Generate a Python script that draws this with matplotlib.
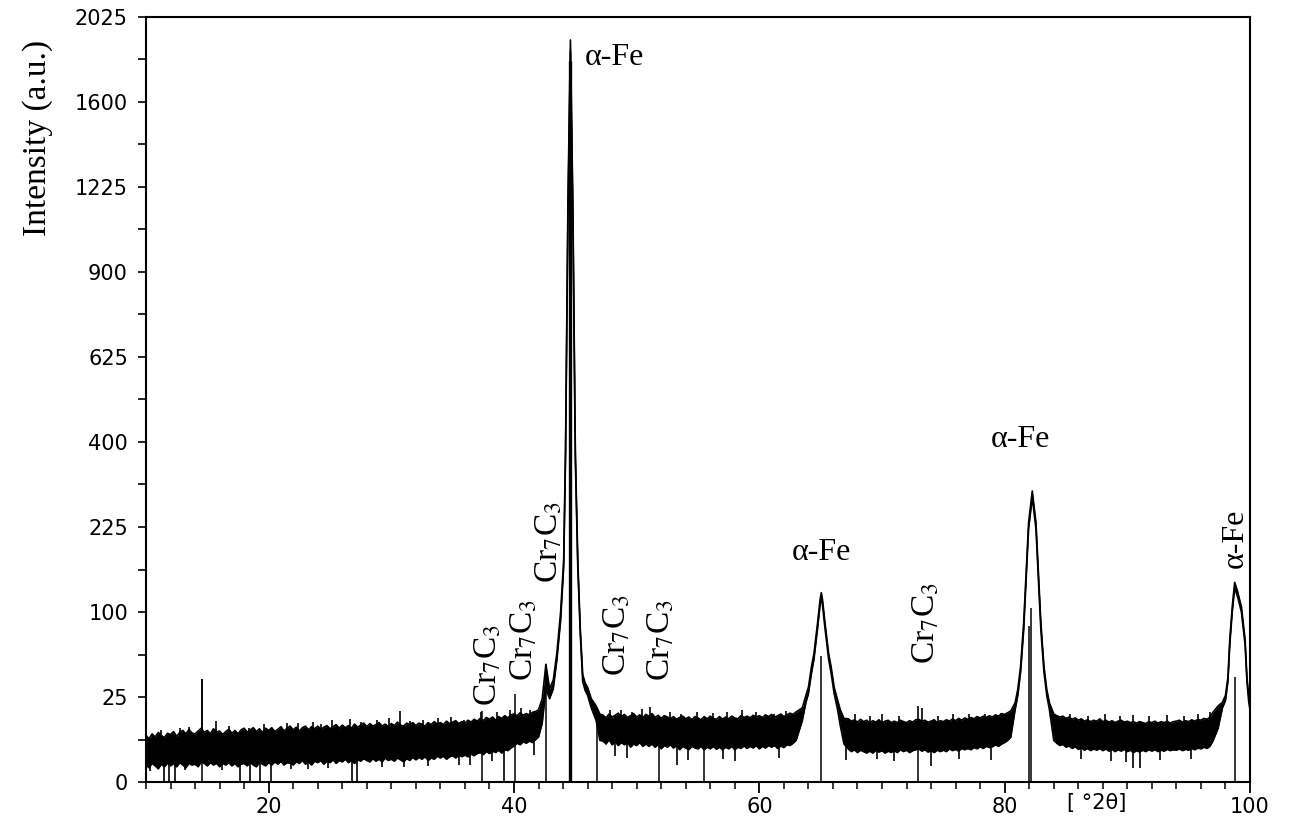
import numpy as np
import matplotlib
matplotlib.use("Agg")
import matplotlib.pyplot as plt

plt.rcParams['mathtext.fontset'] = 'stix'

# ---------------- data ----------------
# 2-theta sampling positions of the noise band / peak profiles
two_theta = [
    # 10 - 42
    10.0, 10.25, 10.5, 10.75, 11.0, 11.25, 11.5, 11.75,
    12.0, 12.25, 12.5, 12.75, 13.0, 13.25, 13.5, 13.75,
    14.0, 14.25, 14.5, 14.75, 15.0, 15.25, 15.5, 15.75,
    16.0, 16.25, 16.5, 16.75, 17.0, 17.25, 17.5, 17.75,
    18.0, 18.25, 18.5, 18.75, 19.0, 19.25, 19.5, 19.75,
    20.0, 20.25, 20.5, 20.75, 21.0, 21.25, 21.5, 21.75,
    22.0, 22.25, 22.5, 22.75, 23.0, 23.25, 23.5, 23.75,
    24.0, 24.25, 24.5, 24.75, 25.0, 25.25, 25.5, 25.75,
    26.0, 26.25, 26.5, 26.75, 27.0, 27.25, 27.5, 27.75,
    28.0, 28.25, 28.5, 28.75, 29.0, 29.25, 29.5, 29.75,
    30.0, 30.25, 30.5, 30.75, 31.0, 31.25, 31.5, 31.75,
    32.0, 32.25, 32.5, 32.75, 33.0, 33.25, 33.5, 33.75,
    34.0, 34.25, 34.5, 34.75, 35.0, 35.25, 35.5, 35.75,
    36.0, 36.25, 36.5, 36.75, 37.0, 37.25, 37.5, 37.75,
    38.0, 38.25, 38.5, 38.75, 39.0, 39.25, 39.5, 39.75,
    40.0, 40.25, 40.5, 40.75, 41.0, 41.25, 41.5, 41.75,
    42.0,
    # main peak
    42.3, 42.6, 42.9, 43.2, 43.5, 43.8, 44.05, 44.2, 44.4, 44.6,
    44.8, 45.0, 45.2, 45.4, 45.6, 45.8, 46.0, 46.3, 46.7, 47.0,
    # 47 - 63
    47.25, 47.5, 47.75, 48.0, 48.25, 48.5, 48.75,
    49.0, 49.25, 49.5, 49.75, 50.0, 50.25, 50.5, 50.75,
    51.0, 51.25, 51.5, 51.75, 52.0, 52.25, 52.5, 52.75,
    53.0, 53.25, 53.5, 53.75, 54.0, 54.25, 54.5, 54.75,
    55.0, 55.25, 55.5, 55.75, 56.0, 56.25, 56.5, 56.75,
    57.0, 57.25, 57.5, 57.75, 58.0, 58.25, 58.5, 58.75,
    59.0, 59.25, 59.5, 59.75, 60.0, 60.25, 60.5, 60.75,
    61.0, 61.25, 61.5, 61.75, 62.0, 62.25, 62.5, 62.75,
    63.0,
    # peak at 65
    63.5, 63.8, 64.0, 64.25, 64.45, 64.75, 64.95, 65.05, 65.15, 65.35,
    65.65, 65.85, 66.1, 66.35, 66.6, 66.9,
    # 67 - 80.5
    67.25, 67.5, 67.75, 68.0, 68.25, 68.5, 68.75,
    69.0, 69.25, 69.5, 69.75, 70.0, 70.25, 70.5, 70.75,
    71.0, 71.25, 71.5, 71.75, 72.0, 72.25, 72.5, 72.75,
    73.0, 73.25, 73.5, 73.75, 74.0, 74.25, 74.5, 74.75,
    75.0, 75.25, 75.5, 75.75, 76.0, 76.25, 76.5, 76.75,
    77.0, 77.25, 77.5, 77.75, 78.0, 78.25, 78.5, 78.75,
    79.0, 79.25, 79.5, 79.75, 80.0, 80.25, 80.5,
    # peak at 82
    80.85, 81.07, 81.3, 81.55, 81.75, 81.95, 82.25, 82.55, 82.75, 82.95,
    83.2, 83.43, 83.65,
    # 84 - 97
    84.0, 84.25, 84.5, 84.75, 85.0, 85.25, 85.5, 85.75,
    86.0, 86.25, 86.5, 86.75, 87.0, 87.25, 87.5, 87.75,
    88.0, 88.25, 88.5, 88.75, 89.0, 89.25, 89.5, 89.75,
    90.0, 90.25, 90.5, 90.75, 91.0, 91.25, 91.5, 91.75,
    92.0, 92.25, 92.5, 92.75, 93.0, 93.25, 93.5, 93.75,
    94.0, 94.25, 94.5, 94.75, 95.0, 95.25, 95.5, 95.75,
    96.0, 96.25, 96.5, 96.75, 97.0,
    # peak at 99
    97.4, 97.75, 98.0, 98.2, 98.35, 98.55, 98.75, 99.0, 99.3, 99.6,
    99.75, 99.9, 100.0]

# upper edge of the noisy trace (intensity, a.u.)
upper = [
    7.5, 6.5, 8.0, 7.0, 8.5, 7.5, 6.8, 8.2,
    7.8, 8.8, 7.2, 8.5, 9.2, 8.0, 9.5, 8.3,
    8.0, 9.0, 10.0, 8.5, 9.2, 8.0, 9.8, 8.6,
    9.0, 7.8, 8.8, 9.6, 8.2, 9.2, 8.0, 9.4,
    10.0, 8.6, 9.4, 10.2, 8.8, 9.8, 8.4, 10.0,
    9.2, 10.2, 8.8, 9.6, 10.6, 9.0, 10.0, 10.8,
    9.4, 10.4, 9.0, 10.2, 10.8, 9.4, 10.6, 9.8,
    10.8, 9.6, 10.4, 11.0, 9.8, 10.6, 11.4, 10.0,
    11.2, 10.2, 11.0, 10.0, 11.6, 10.4, 11.2, 12.0,
    10.6, 11.8, 10.8, 11.4, 12.2, 10.8, 11.6, 10.6,
    11.8, 11.0, 12.4, 11.2, 10.8, 12.0, 11.4, 12.2,
    11.0, 12.0, 11.6, 10.8, 12.2, 11.4, 12.6, 11.6,
    12.2, 11.4, 12.8, 11.8, 12.4, 13.0, 11.8, 12.6,
    12.0, 13.2, 12.4, 13.6, 12.8, 14.0, 13.0, 14.4,
    13.6, 14.6, 13.2, 14.8, 14.0, 15.2, 14.2, 15.6,
    16.0, 15.2, 16.6, 15.4, 16.2, 15.6, 16.8, 17.2,
    18.0,
    24.0, 48.0, 30.0, 36.0, 58.0, 100, 170, 380, 1180, 1905,
    1150, 380, 170, 82, 40, 34, 31, 24, 20, 16,
    15.5, 14.2, 16.0, 14.6, 15.4, 16.4, 14.8,
    15.8, 14.4, 15.2, 16.2, 14.6, 15.6, 14.2, 15.8,
    15.0, 16.2, 14.4, 15.4, 14.0, 15.2, 14.6, 13.8,
    14.8, 13.6, 14.4, 15.0, 13.8, 14.6, 13.4, 14.8,
    14.2, 13.4, 14.8, 13.8, 15.0, 14.0, 13.6, 14.8,
    13.6, 14.6, 13.8, 15.0, 14.2, 13.8, 15.2, 14.4,
    15.0, 14.2, 15.4, 14.6, 15.2, 14.4, 15.6, 14.8,
    15.8, 14.6, 15.2, 16.0, 14.8, 15.6, 16.4, 15.8,
    17.0,
    19, 26, 31, 46, 57, 88, 115, 124, 115, 88,
    57, 46, 31, 24, 18, 14,
    13.8, 12.8, 13.4, 12.4, 13.6, 12.6, 13.2,
    12.2, 13.0, 12.4, 13.4, 12.0, 12.8, 13.2, 12.2,
    12.8, 12.2, 13.2, 12.6, 12.2, 13.0, 12.4, 13.4,
    13.6, 12.8, 13.2, 12.4, 12.8, 13.4, 12.2, 13.0,
    12.6, 13.4, 12.8, 13.8, 13.0, 14.0, 13.2, 14.2,
    13.6, 14.4, 13.8, 14.8, 14.2, 15.0, 14.4, 15.2,
    14.6, 15.6, 15.0, 16.2, 15.8, 16.6, 17.5,
    21.7, 29.7, 46.5, 88, 152, 233, 293, 233, 152, 88,
    46.5, 29.7, 21.7,
    16.0, 15.2, 14.6, 15.0, 14.0, 14.6, 13.6, 14.2,
    13.2, 13.8, 12.8, 13.4, 12.6, 13.2, 12.8, 13.8,
    12.6, 13.2, 12.4, 13.0, 12.2, 12.8, 13.2, 12.4,
    12.8, 12.2, 12.6, 12.0, 12.6, 12.2, 11.8, 12.6,
    12.2, 12.8, 12.0, 12.6, 12.2, 12.8, 12.0, 12.6,
    12.8, 13.2, 12.4, 13.0, 12.6, 13.4, 12.8, 13.6,
    13.2, 14.0, 13.6, 14.6, 17.0,
    20, 22, 26, 38, 70, 106, 138, 125, 106, 70,
    38, 25, 21]

# lower edge of the noisy trace
lower = [
    1.0, 0.7, 1.2, 0.9, 0.6, 1.1, 0.8, 1.2,
    0.9, 1.2, 0.8, 1.3, 1.0, 0.7, 1.2, 1.0,
    1.1, 0.8, 1.4, 1.2, 0.9, 1.3, 1.0, 1.2,
    0.8, 1.2, 1.0, 1.3, 0.9, 1.2, 0.8, 1.1,
    1.2, 0.9, 1.3, 1.0, 0.8, 1.3, 1.1, 0.9,
    1.3, 1.0, 1.4, 1.1, 1.5, 1.0, 1.3, 1.2,
    1.0, 1.4, 1.2, 1.6, 1.1, 1.4, 1.0, 1.5,
    1.3, 1.6, 1.1, 1.5, 1.3, 1.7, 1.2, 1.6,
    1.4, 1.8, 1.3, 1.6, 1.2, 1.7, 1.5, 1.9,
    1.6, 1.4, 1.9, 1.5, 1.8, 1.4, 2.0, 1.6,
    1.8, 1.5, 2.0, 1.7, 1.4, 1.9, 1.6, 2.1,
    1.7, 2.1, 1.8, 2.2, 1.6, 2.0, 1.8, 2.3,
    2.0, 2.3, 1.8, 2.2, 2.4, 2.0, 2.5, 2.2,
    2.5, 2.2, 2.7, 2.4, 2.8, 3.0, 2.6, 3.2,
    2.8, 3.3, 3.0, 3.5, 2.9, 3.6, 3.4, 4.0,
    4.5, 5.2, 4.8, 5.6, 5.2, 5.8, 5.4, 6.2,
    7.0,
    12, 30, 24, 30, 52, 90, 160, 365, 1120, 1850,
    1100, 360, 160, 77, 35, 29, 26, 19, 13, 6,
    5.8, 5.0, 6.2, 4.8, 5.6, 4.6, 5.4,
    4.8, 5.4, 4.2, 5.0, 4.6, 5.4, 4.4, 5.0,
    4.4, 5.0, 4.2, 4.8, 3.8, 4.6, 4.2, 4.8,
    4.0, 4.6, 3.6, 4.4, 4.0, 3.6, 4.4, 4.0,
    3.8, 4.4, 3.6, 4.2, 3.8, 4.4, 3.7, 4.2,
    3.6, 4.2, 3.8, 4.4, 3.6, 4.2, 3.9, 4.5,
    3.9, 4.4, 4.0, 4.6, 3.8, 4.4, 4.0, 4.6,
    4.2, 4.6, 3.9, 4.5, 4.1, 4.8, 4.6, 5.2,
    6.0,
    13, 22, 27, 41, 52, 82, 108, 118, 108, 82,
    52, 41, 27, 19, 11, 5,
    3.8, 3.2, 3.6, 3.0, 3.5, 3.2, 2.9,
    3.3, 2.9, 3.5, 3.1, 3.4, 2.9, 3.3, 3.0,
    3.4, 3.0, 3.6, 3.2, 3.5, 3.0, 3.4, 3.6,
    3.8, 3.3, 3.6, 3.1, 3.4, 3.0, 3.5, 3.2,
    3.5, 3.2, 3.8, 3.4, 3.7, 3.3, 3.9, 3.6,
    3.9, 3.6, 4.1, 3.8, 4.3, 3.9, 4.4, 4.1,
    4.3, 4.8, 4.4, 5.0, 5.4, 6.0, 7.0,
    18, 26, 42, 80, 143, 222, 280, 222, 143, 80,
    42, 26, 18,
    6.0, 5.2, 4.6, 4.9, 4.2, 4.5, 3.9, 4.3,
    3.7, 4.1, 3.5, 3.9, 3.4, 3.8, 3.5, 3.9,
    3.4, 3.8, 3.3, 3.7, 3.2, 3.6, 3.3, 3.7,
    3.2, 3.5, 3.0, 3.4, 3.1, 3.5, 3.2, 3.6,
    3.3, 3.6, 3.2, 3.5, 3.3, 3.7, 3.4, 3.6,
    3.5, 3.8, 3.4, 3.7, 3.5, 3.9, 3.6, 4.0,
    3.8, 4.2, 3.9, 4.5, 6.0,
    10, 19, 23, 35, 65, 100, 130, 118, 100, 65,
    35, 22, 18]

# isolated upward noise spikes
spike_x = [11.2, 12.8, 13.5, 14.55, 15.7, 16.8, 18.4, 19.6, 21.5, 22.4,
           23.6, 24.3, 25.2, 26.6, 27.5, 28.8, 29.8, 30.7, 31.5, 32.6,
           33.8, 34.9, 35.9, 37.3, 38.6, 39.7, 40.6, 41.3, 47.8, 48.7,
           49.6, 50.4, 51.1, 52.7, 53.6, 54.9, 56.2, 57.4, 58.6, 59.7,
           61.2, 62.2, 67.8, 69.0, 70.0, 71.4, 72.9, 73.3, 74.6, 75.8,
           77.1, 78.4, 79.7, 85.3, 86.8, 88.2, 89.4, 90.5, 91.8, 93.2,
           94.6, 95.8, 96.7]
spike_top = [9.5, 10, 10.5, 37, 12.7, 11, 10.2, 11.5, 12.2, 12,
             12.5, 11.5, 13.1, 13.6, 12.5, 13.1, 14, 17.6, 13, 13.1,
             14, 14.5, 13.5, 16.8, 17, 18, 19, 18, 18, 18,
             17, 18.5, 19.5, 17, 16, 17, 16.5, 17, 18, 17,
             16, 17.6, 16, 15, 16, 15, 20, 19, 15, 16,
             16, 16, 16.5, 16, 15, 16, 15, 15.4, 15, 15.4,
             15, 16, 17]

# isolated downward noise dips
dip_x = [10.3, 11.5, 11.9, 12.4, 13.2, 16.2, 17.7, 18.5, 19.3, 20.2,
         21.8, 23.2, 24.8, 26.8, 27.2, 29.2, 31.0, 33.0, 35.5, 36.4,
         38.2, 39.2, 41.6, 48.2, 49.2, 53.3, 54.2, 57.0, 58.0, 61.6,
         67.1, 69.6, 71.0, 74.0, 76.3, 78.9, 86.2, 88.7, 89.9, 90.5,
         91.0, 92.7, 95.2]
dip_bottom = [0.4, 0, 0, 0, 0.5, 0.5, 0, 0, 0, 0,
              0.6, 0.6, 0.7, 0, 0, 0.8, 0.8, 0.9, 1.0, 1.0,
              1.5, 0, 2.5, 2.4, 2.0, 1.0, 1.6, 1.8, 1.5, 2.0,
              1.6, 1.8, 1.5, 0.9, 1.8, 1.6, 1.8, 1.5, 1.4, 0.7,
              0.7, 1.6, 1.8]

# reference stick lines rising from the baseline
stick_x = [14.55, 37.4, 40.05, 42.6, 44.6, 46.75, 51.8, 55.5, 65.05, 72.9, 82.15, 82.0, 98.75]
stick_top = [37, 17.5, 27, 48, 1800, 15, 5, 4, 55, 5, 105, 84, 38]

# phase annotations
cr_label_x = [37.9, 40.8, 42.85, 48.4, 52.0, 73.6]
cr_label_y = [47, 70, 200, 75, 70, 88]
fe_label_x = [45.8, 65.1, 81.3, 98.8]
fe_label_y = [1814, 183, 405, 206]

y_ticks = [0, 25, 100, 225, 400, 625, 900, 1225, 1600, 2025]
y_tick_labels = ['0', '25', '100', '225', '400', '625', '900', '1225', '1600', '2025']
x_ticks = [20, 40, 60, 80, 100]
x_tick_labels = ['20', '40', '60', '80', '100']

# ---------------- drawing ----------------
fig = plt.figure(figsize=(12.92, 8.21), dpi=100)
ax = fig.add_axes([0.1130, 0.0475, 0.8545, 0.9318])
ax.set_yscale('function', functions=(lambda v: np.sqrt(np.clip(v, 0, None)),
                                     lambda v: np.square(v)))

x = np.array(two_theta)
hi = np.array(upper)
lo = np.array(lower)
ax.fill_between(x, lo, hi, color='black', lw=0)
ax.plot(x, hi, color='black', lw=1.2)
ax.plot(x, lo, color='black', lw=1.2)

sx = np.array(spike_x)
ax.vlines(sx, np.interp(sx, x, lo), spike_top, color='black', lw=1.2)
dx = np.array(dip_x)
ax.vlines(dx, dip_bottom, np.interp(dx, x, hi), color='black', lw=1.2)

lws = [2.4 if t > 1000 else 1.1 for t in stick_top]
ax.vlines(stick_x, 0, stick_top, color='black', lw=lws)

ax.set_xlim(10, 100)
ax.set_ylim(0, 2025)

ax.set_xticks(x_ticks)
ax.set_xticklabels(x_tick_labels)
ax.set_xticks([v for v in range(10, 100, 2) if v % 20 != 0], minor=True)
ax.set_yticks(y_ticks)
ax.set_yticklabels(y_tick_labels)
ax.set_yticks([(2.5 + 5 * k) ** 2 for k in range(9)], minor=True)

ax.tick_params(axis='x', which='major', direction='out', length=8, width=1.3,
               labelsize=15, pad=3)
ax.tick_params(axis='x', which='minor', direction='out', length=5, width=1.1)
ax.tick_params(axis='y', which='both', direction='out', length=6, width=1.2,
               labelsize=15, pad=7)
for s in ax.spines.values():
    s.set_linewidth(1.5)

serif = 'Liberation Serif'
for cx, cy in zip(cr_label_x, cr_label_y):
    ax.text(cx, cy, r'Cr$_7$C$_3$', rotation=90, ha='center', va='center',
            fontsize=24, family=serif)
ax.text(fe_label_x[0], fe_label_y[0], 'α-Fe', ha='left', va='center', fontsize=23, family=serif)
ax.text(fe_label_x[1], fe_label_y[1], 'α-Fe', ha='center', va='center', fontsize=23, family=serif)
ax.text(fe_label_x[2], fe_label_y[2], 'α-Fe', ha='center', va='center', fontsize=23, family=serif)
ax.text(fe_label_x[3], fe_label_y[3], 'α-Fe', ha='center', va='center', fontsize=23,
        family=serif, rotation=90)

ax.text(0.861, -0.027, '[ °2θ]', transform=ax.transAxes, ha='center', va='center', fontsize=15)
fig.text(38 / 1292, 1 - 138 / 821, 'Intensity (a.u.)', rotation=90, ha='center', va='center',
         fontsize=24, family=serif)

fig.savefig('out.png', dpi=100)
